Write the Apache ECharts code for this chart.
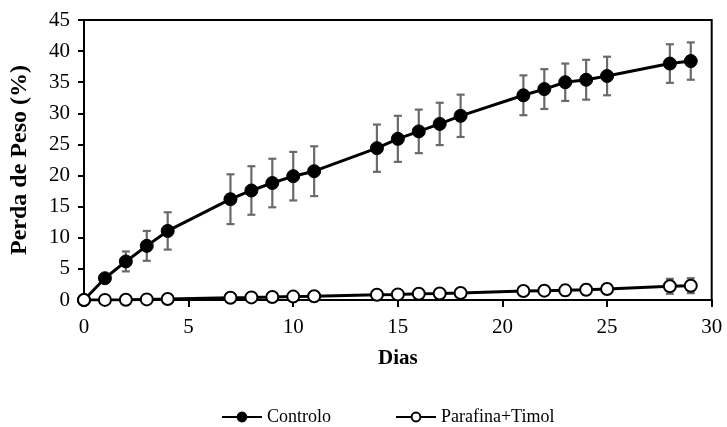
<!DOCTYPE html>
<html>
<head>
<meta charset="utf-8">
<script src="https://cdn.jsdelivr.net/npm/echarts@6/dist/echarts.min.js"></script>
<style>html,body{margin:0;padding:0;background:#fff}#c{width:727px;height:427px}</style>
</head>
<body>
<div id="c"></div>
<script>
var days = [0,1,2,3,4,7,8,9,10,11,14,15,16,17,18,21,22,23,24,25,28,29];
var controlo = [0,3.5,6.2,8.7,11.1,16.2,17.6,18.8,19.9,20.7,24.4,25.9,27.1,28.3,29.6,32.9,33.9,35.0,35.4,36.0,38.0,38.4];
var controloErr = [0,0.6,1.6,2.4,3.0,4.0,3.9,3.9,3.9,4.0,3.8,3.7,3.5,3.4,3.4,3.2,3.2,3.0,3.2,3.1,3.1,3.0];
var parafina = [0,0.02,0.05,0.1,0.15,0.37,0.42,0.48,0.55,0.6,0.85,0.9,1.0,1.05,1.13,1.45,1.5,1.55,1.65,1.77,2.2,2.3];
var parafinaErr = [0,0,0,0,0,0.1,0.1,0.15,0.15,0.2,0.3,0.35,0.4,0.45,0.45,0.5,0.7,0.8,0.8,0.8,1.2,1.2];
var xTicks = [0,5,10,15,20,25,30];
var yTicks = [0,5,10,15,20,25,30,35,40,45];

var FONT = 'Liberation Serif';
function pairs(vals){ return days.map(function(d,i){ return [d, vals[i]]; }); }
function errData(vals, errs){ return days.map(function(d,i){ return [d, vals[i]-errs[i], vals[i]+errs[i]]; }); }
function errRender(params, api){
  var x = api.value(0), lo = api.value(1), hi = api.value(2);
  if (hi - lo <= 0) return null;
  var p1 = api.coord([x, hi]), p2 = api.coord([x, lo]);
  var w = 4;
  var st = {stroke:'#6a6a6a', lineWidth:2.2};
  return {type:'group', children:[
    {type:'line', shape:{x1:p1[0],y1:p1[1],x2:p2[0],y2:p2[1]}, style:st},
    {type:'line', shape:{x1:p1[0]-w,y1:p1[1],x2:p1[0]+w,y2:p1[1]}, style:st},
    {type:'line', shape:{x1:p2[0]-w,y1:p2[1],x2:p2[0]+w,y2:p2[1]}, style:st}
  ]};
}
var chart = echarts.init(document.getElementById('c'), null, {renderer:'canvas'});
chart.setOption({
  animation:false,
  backgroundColor:'#fff',
  grid:{left:81.7, right:15.3, top:20, bottom:127, show:true, borderColor:'#000', borderWidth:2},
  xAxis:{type:'value', min:0, max:30, interval:5,
    name:'Dias', nameLocation:'middle', nameGap:48,
    nameTextStyle:{fontFamily:FONT, fontWeight:'bold', fontSize:21, color:'#000'},
    axisLine:{lineStyle:{color:'#000', width:2}},
    axisTick:{show:true, inside:false, length:7, lineStyle:{color:'#000', width:2}},
    axisLabel:{fontFamily:FONT, fontSize:21, color:'#000', margin:17},
    splitLine:{show:false}},
  yAxis:{type:'value', min:0, max:45, interval:5,
    name:'Perda de Peso (%)', nameLocation:'middle', nameGap:52,
    nameTextStyle:{fontFamily:FONT, fontWeight:'bold', fontSize:24, color:'#000'},
    axisLine:{show:true, lineStyle:{color:'#000', width:2}},
    axisTick:{show:true, inside:false, length:6, lineStyle:{color:'#000', width:2}},
    axisLabel:{fontFamily:FONT, fontSize:21, color:'#000', margin:14},
    splitLine:{show:false}},
  legend:{top:403, left:216, itemWidth:40, itemHeight:11, itemGap:64,
    textStyle:{fontFamily:FONT, fontSize:18, color:'#000'},
    data:['Controlo','Parafina+Timol']},
  series:[
    {name:'errC', type:'custom', renderItem:errRender, data:errData(controlo, controloErr), z:1, silent:true},
    {name:'errP', type:'custom', renderItem:errRender, data:errData(parafina, parafinaErr), z:1, silent:true},
    {name:'Controlo', type:'line', data:pairs(controlo), symbol:'circle', symbolSize:13,
      lineStyle:{color:'#000', width:3}, itemStyle:{color:'#000', borderColor:'#000', borderWidth:1}, z:3},
    {name:'Parafina+Timol', type:'line', data:pairs(parafina), symbol:'circle', symbolSize:12,
      lineStyle:{color:'#000', width:3}, itemStyle:{color:'#fff', borderColor:'#000', borderWidth:2}, z:4}
  ]
});
</script>
</body>
</html>
